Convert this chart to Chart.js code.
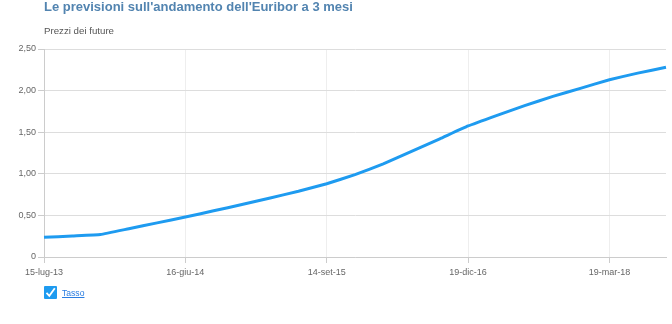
<!DOCTYPE html>
<html>
<head>
<meta charset="utf-8">
<script src="https://cdn.jsdelivr.net/npm/chart.js@4"></script>
<style>
  html, body { margin: 0; padding: 0; background: #fff; }
  body { width: 672px; height: 324px; position: relative; overflow: hidden; font-family: "Liberation Sans", Arial, sans-serif; }
  #title { position: absolute; left: 44px; top: -1px; font-size: 13px; font-weight: bold; color: #5284b0; white-space: nowrap; }
  #subtitle { position: absolute; left: 44px; top: 25px; font-size: 9.7px; color: #555; }
  #wrap { position: absolute; left: 0; top: 0; width: 672px; height: 324px; }
  #legend { position: absolute; left: 44px; top: 286px; height: 13px; display: flex; align-items: center; }
  #legend .box { width: 13px; height: 13px; background: #1e9bf0; border-radius: 1px; position: relative; }
  #legend .box svg { position: absolute; left: 0; top: 0; }
  #legend a { margin-left: 5px; font-size: 8.6px; color: #2a7de1; text-decoration: underline; }
</style>
</head>
<body>
<div id="wrap"><canvas id="chart" width="672" height="324"></canvas></div>
<div id="title">Le previsioni sull'andamento dell'Euribor a 3 mesi</div>
<div id="subtitle">Prezzi dei future</div>
<div id="legend">
  <div class="box"><svg width="13" height="13" viewBox="0 0 13 13"><path d="M2.5 6.8 L5.3 9.8 L10.8 2.2" fill="none" stroke="#fff" stroke-width="1.8"/></svg></div>
  <a href="#">Tasso</a>
</div>
<script>
// scadenze dei future (una etichetta ogni 5 mostrata sull'asse)
const dates = ['15-lug-13', '19-ago-13', '16-set-13', '16-dic-13', '17-mar-14', '16-giu-14',
  '15-set-14', '15-dic-14', '16-mar-15', '15-giu-15', '14-set-15', '14-dic-15',
  '14-mar-16', '13-giu-16', '19-set-16', '19-dic-16', '13-mar-17', '19-giu-17',
  '18-set-17', '18-dic-17', '19-mar-18', '18-giu-18', '17-set-18']
const tasso = [0.236, 0.253, 0.27, 0.34, 0.41, 0.48, 0.555, 0.63, 0.71, 0.79, 0.88, 0.99,
  1.12, 1.27, 1.42, 1.575, 1.70, 1.82, 1.93, 2.03, 2.13, 2.21, 2.28]
const yTicks = [0, 0.5, 1, 1.5, 2, 2.5]

const tickFont = { family: '"Liberation Sans", Arial, sans-serif', size: 9 }

new Chart(document.getElementById('chart'), {
  type: 'line',
  data: {
    labels: dates,
    datasets: [{
      label: 'Tasso',
      data: tasso,
      borderColor: '#1e9bf0',
      borderWidth: 3,
      pointRadius: 0,
      tension: 0.1,
      fill: false
    }]
  },
  options: {
    responsive: false,
    animation: false,
    layout: { padding: { left: 0, top: 49, right: 6, bottom: 47 } },
    plugins: { legend: { display: false }, tooltip: { enabled: false } },
    scales: {
      x: {
        offset: false,
        afterFit: scale => { scale.height = 20 },
        grid: { color: '#eeeeee', tickColor: '#cccccc', tickLength: 6 },
        border: { color: '#cccccc' },
        ticks: {
          autoSkip: false,
          maxRotation: 0,
          color: '#666',
          font: tickFont,
          padding: 4,
          callback: (v, i) => i % 5 === 0 ? dates[i] : null
        }
      },
      y: {
        min: 0,
        max: 2.5,
        afterFit: scale => { scale.width = 44 },
        afterBuildTicks: scale => { scale.ticks = yTicks.map(v => ({ value: v })) },
        grid: { color: '#dddddd', tickColor: '#cccccc', tickLength: 6 },
        border: { color: '#cccccc' },
        ticks: {
          color: '#666',
          font: tickFont,
          padding: 2,
          callback: v => v === 0 ? '0' : v.toFixed(2).replace('.', ',')
        }
      }
    }
  }
})
</script>
</body>
</html>
